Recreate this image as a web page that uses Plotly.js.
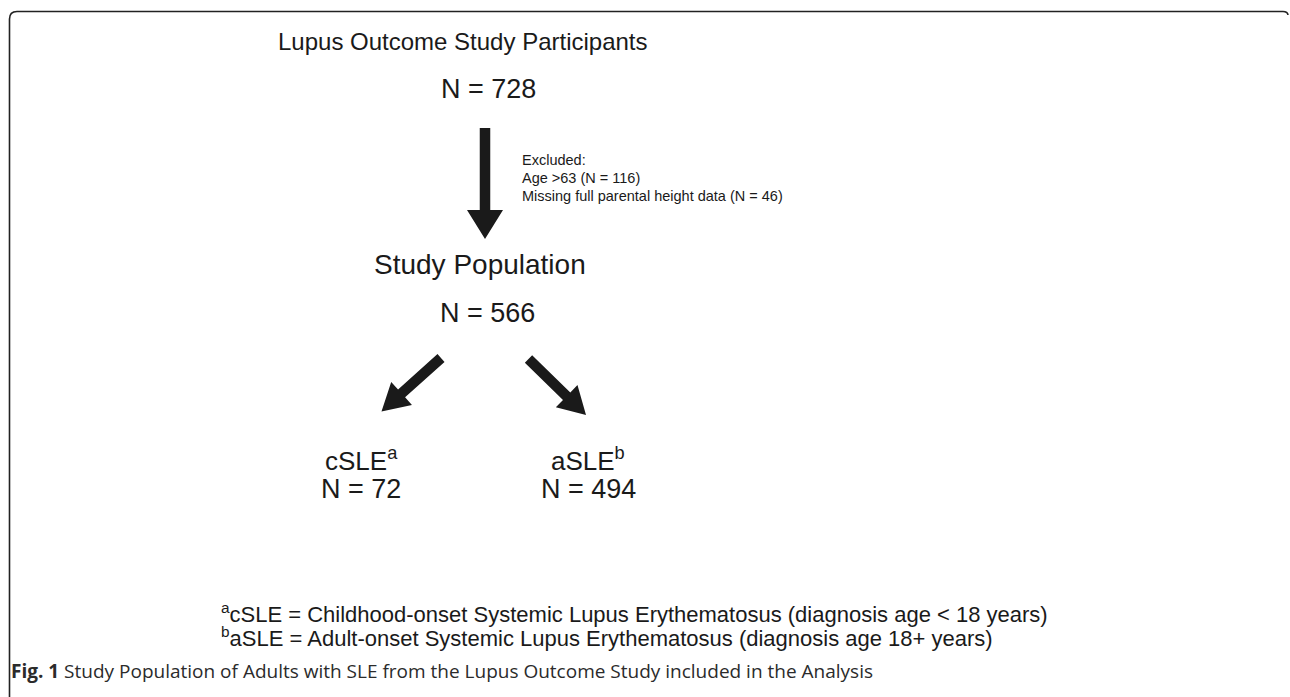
<!DOCTYPE html>
<html>
<head>
<meta charset="utf-8">
<script src="https://cdn.plot.ly/plotly-3.0.1.min.js"></script>
<style>
  html, body { margin: 0; padding: 0; background: #ffffff; }
  #chart { width: 1290px; height: 697px; }
</style>
</head>
<body>
<div id="chart"></div>
<script>
// ---------------- data ----------------
const stageLabels = ['Lupus Outcome Study Participants', 'Study Population'];
const stageCounts = [728, 566];
const exclusionHeader = 'Excluded:';
const exclusionReasons = ['Age >63', 'Missing full parental height data'];
const exclusionCounts = [116, 46];
const groupLabels = ['cSLE', 'aSLE'];
const groupMarks = ['a', 'b'];
const groupCounts = [72, 494];
const footnoteTexts = [
  'cSLE = Childhood-onset Systemic Lupus Erythematosus (diagnosis age < 18 years)',
  'aSLE = Adult-onset Systemic Lupus Erythematosus (diagnosis age 18+ years)'
];
const captionLabel = 'Fig. 1';
const captionText = 'Study Population of Adults with SLE from the Lupus Outcome Study included in the Analysis';

// ---------------- layout geometry (pixels, 1:1 axes) ----------------
const W = 1290, H = 697;
const FONT = 'Liberation Sans, Arial, Helvetica, sans-serif';
const INK = '#1a1a1a';
const stagePos = [{x: 277, y: 41, size: 24, anchor: 'left'}, {x: 373, y: 264, size: 28, anchor: 'left'}];
const stageCountPos = [{x: 488, y: 89}, {x: 487, y: 313}];
const countSize = 27;
const exclPos = {x: 521, y0: 160, dy: 18, size: 14.5};
const groupPos = [{x: 361, yl: 459, yc: 489}, {x: 588, yl: 459, yc: 489}];
const groupSize = 26;
const footPos = {x: 220, y0: 612.5, dy: 24.5, size: 22};
const capPos = {x: 10, y: 671, size: 19};
const arrows = [
  {from: [485, 128], to: [485, 239], shaft: 10.5, headW: 36, headL: 29},
  {from: [441, 358], to: [381.5, 411.5], shaft: 10.5, headW: 31, headL: 27},
  {from: [528.5, 359], to: [586, 415], shaft: 10.5, headW: 31, headL: 27}
];

function esc(s) { return s.replace(/&/g, '&amp;').replace(/</g, '&lt;').replace(/>/g, '&gt;'); }

function arrowPath(a) {
  const [x0, y0] = a.from, [x1, y1] = a.to;
  const dx = x1 - x0, dy = y1 - y0, len = Math.hypot(dx, dy);
  const ux = dx / len, uy = dy / len, px = -uy, py = ux;
  const bx = x1 - ux * a.headL, by = y1 - uy * a.headL;
  const s = a.shaft / 2, h = a.headW / 2;
  const pts = [
    [x0 + px * s, y0 + py * s], [bx + px * s, by + py * s], [bx + px * h, by + py * h],
    [x1, y1],
    [bx - px * h, by - py * h], [bx - px * s, by - py * s], [x0 - px * s, y0 - py * s]
  ];
  return 'M ' + pts.map(p => p[0].toFixed(2) + ' ' + p[1].toFixed(2)).join(' L ') + ' Z';
}

const annotations = [];
function addText(text, x, y, size, xanchor, extra) {
  annotations.push(Object.assign({
    text: text, x: x, y: y, xref: 'x', yref: 'y', xanchor: xanchor, yanchor: 'middle',
    showarrow: false, align: 'left', borderpad: 0,
    font: {family: FONT, size: size, color: INK}
  }, extra || {}));
}

stageLabels.forEach((lab, i) => {
  addText(esc(lab), stagePos[i].x, stagePos[i].y, stagePos[i].size, stagePos[i].anchor);
  addText('N = ' + stageCounts[i], stageCountPos[i].x, stageCountPos[i].y, countSize, 'center');
});

const exclLines = [exclusionHeader].concat(exclusionReasons.map((r, i) => r + ' (N = ' + exclusionCounts[i] + ')'));
exclLines.forEach((t, i) => addText(esc(t), exclPos.x, exclPos.y0 + i * exclPos.dy, exclPos.size, 'left'));

groupLabels.forEach((g, i) => {
  addText(esc(g) + '<sup>' + groupMarks[i] + '</sup>', groupPos[i].x, groupPos[i].yl, groupSize, 'center');
  addText('N = ' + groupCounts[i], groupPos[i].x, groupPos[i].yc, countSize, 'center');
});

footnoteTexts.forEach((t, i) => {
  addText('<sup>' + groupMarks[i] + '</sup>' + esc(t), footPos.x, footPos.y0 + i * footPos.dy, footPos.size, 'left');
});

addText('<b>' + esc(captionLabel) + '</b> ' + esc(captionText), capPos.x, capPos.y, capPos.size, 'left',
  {font: {family: 'Open Sans, Noto Sans, sans-serif', size: capPos.size, color: '#2b2b2b'}});

const shapes = arrows.map(a => ({
  type: 'path', xref: 'x', yref: 'y', path: arrowPath(a),
  fillcolor: INK, line: {width: 0}
}));
// frame with rounded upper corners
shapes.push({
  type: 'path', xref: 'x', yref: 'y',
  path: 'M 9.5 700 L 9.5 19 Q 9.5 11.5 17 11.5 L 1283 11.5 Q 1287.5 11.5 1288 15',
  line: {color: '#222222', width: 1.6}
});

const layout = {
  width: W, height: H,
  margin: {l: 0, r: 0, t: 0, b: 0, pad: 0},
  paper_bgcolor: '#ffffff', plot_bgcolor: '#ffffff',
  xaxis: {range: [0, W], visible: false, fixedrange: true},
  yaxis: {range: [H, 0], visible: false, fixedrange: true},
  showlegend: false,
  annotations: annotations,
  shapes: shapes
};

Plotly.newPlot('chart', [], layout, {staticPlot: true, displayModeBar: false});
</script>
</body>
</html>
